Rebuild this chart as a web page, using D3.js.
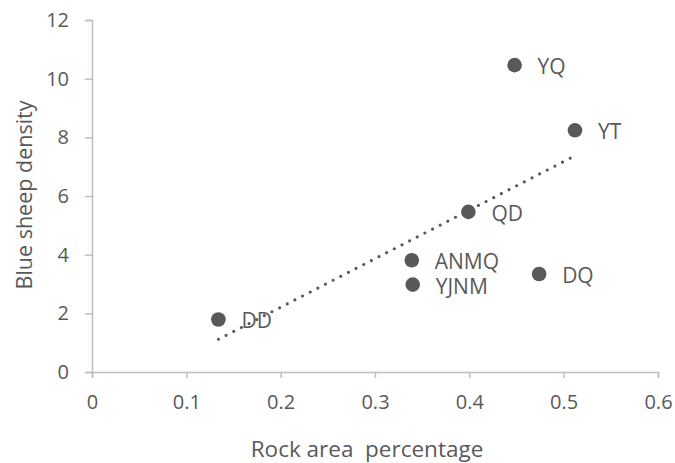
<!DOCTYPE html>
<html>
<head>
<meta charset="utf-8">
<script src="https://cdn.jsdelivr.net/npm/d3@7"></script>
<style>
  body { margin: 0; background: #fff; }
  svg text { font-family: "Open Sans", sans-serif; fill: #595959; }
</style>
</head>
<body>
<div id="chart"></div>
<script>
const sites = ['DD', 'YJNM', 'ANMQ', 'QD', 'YQ', 'DQ', 'YT']
const rockArea = [0.134, 0.340, 0.339, 0.399, 0.448, 0.474, 0.512]
const sheepDensity = [1.79, 2.98, 3.81, 5.46, 10.46, 3.34, 8.24]
const xTicks = [0, 0.1, 0.2, 0.3, 0.4, 0.5, 0.6]
const yTicks = [0, 2, 4, 6, 8, 10, 12]

const margin = {top: 20, right: 17, bottom: 91, left: 92}
const width = 675 - margin.left - margin.right
const height = 463 - margin.top - margin.bottom

const svg = d3.select('#chart').append('svg')
  .attr('width', 675)
  .attr('height', 463)

const chart = svg.append('g')
  .attr('transform', `translate(${margin.left}, ${margin.top})`)

const x = d3.scaleLinear().domain([0, 0.6]).range([0, width])
const y = d3.scaleLinear().domain([0, 12]).range([height, 0])

// axes
const xAxis = chart.append('g')
  .attr('transform', `translate(0, ${height})`)
  .call(d3.axisBottom(x).tickValues(xTicks).tickSize(6).tickPadding(17)
    .tickFormat((d) => d === 0 ? '0' : d3.format('.1f')(d)))
const yAxis = chart.append('g')
  .call(d3.axisLeft(y).tickValues(yTicks).tickSize(7).tickPadding(16))

for (const axis of [xAxis, yAxis]) {
  axis.select('.domain').attr('stroke', '#bfbfbf').attr('stroke-width', 1.5)
  axis.selectAll('.tick line').attr('stroke', '#bfbfbf').attr('stroke-width', 1.5)
  axis.selectAll('.tick text')
    .attr('fill', '#595959')
    .style('font-size', '20px')
    .style('font-family', '"Open Sans", sans-serif')
}

// linear trendline (least squares)
const mx = d3.mean(rockArea)
const my = d3.mean(sheepDensity)
const sxy = d3.sum(rockArea, (v, i) => (v - mx) * (sheepDensity[i] - my))
const sxx = d3.sum(rockArea, (v) => (v - mx) * (v - mx))
const slope = sxy / sxx
const intercept = my - slope * mx
const [xMin, xMax] = d3.extent(rockArea)

chart.append('line')
  .attr('x1', x(xMin))
  .attr('y1', y(intercept + slope * xMin))
  .attr('x2', x(xMax))
  .attr('y2', y(intercept + slope * xMax))
  .attr('stroke', '#595959')
  .attr('stroke-width', 3)
  .attr('stroke-linecap', 'round')
  .attr('stroke-dasharray', '0.1 8.5')

// points
const points = sites.map((name, i) => ({name, x: rockArea[i], y: sheepDensity[i]}))

chart.selectAll('.dot').data(points)
  .enter().append('circle')
    .attr('class', 'dot')
    .attr('cx', (d) => x(d.x))
    .attr('cy', (d) => y(d.y))
    .attr('r', 7.3)
    .attr('fill', '#595959')

chart.selectAll('.label').data(points)
  .enter().append('text')
    .attr('class', 'label')
    .attr('x', (d) => x(d.x) + 23)
    .attr('y', (d) => y(d.y) + 1)
    .attr('dominant-baseline', 'central')
    .style('font-size', '21px')
    .text((d) => d.name)

// axis titles
svg.append('text')
  .attr('x', 367)
  .attr('y', 457)
  .attr('text-anchor', 'middle')
  .style('font-size', '22.5px')
  .style('white-space', 'pre')
  .attr('xml:space', 'preserve')
  .text('Rock area  percentage')

svg.append('text')
  .attr('transform', 'translate(32, 195) rotate(-90)')
  .attr('text-anchor', 'middle')
  .style('font-size', '21.5px')
  .text('Blue sheep density')
</script>
</body>
</html>
